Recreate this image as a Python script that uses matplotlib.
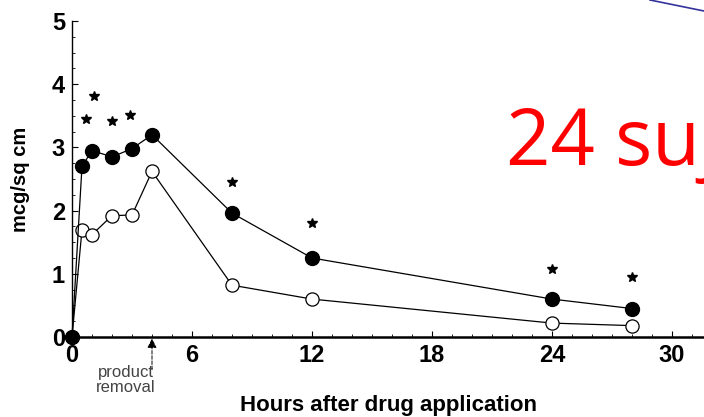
import matplotlib.pyplot as plt
from matplotlib.lines import Line2D
from matplotlib.ticker import MultipleLocator

hours = [0, 0.5, 1, 2, 3, 4, 8, 12, 24, 28]
treated = [0, 2.7, 2.95, 2.85, 2.98, 3.2, 1.96, 1.25, 0.6, 0.45]
control = [0, 1.7, 1.62, 1.92, 1.93, 2.62, 0.82, 0.6, 0.22, 0.18]

star_hours = [0.7, 1.1, 2.0, 2.9, 8.0, 12.0, 24.0, 28.0]
star_vals = [3.45, 3.82, 3.42, 3.52, 2.45, 1.8, 1.08, 0.95]

fig = plt.figure(figsize=(7.04, 4.17), dpi=100)
ax = fig.add_axes([72 / 704, 80 / 417, 632 / 704, 316 / 417])

ax.plot(hours, control, color='black', lw=0.9, marker='o', ms=9.5,
        mfc='white', mec='black', mew=0.9, clip_on=False, zorder=3)
ax.plot(hours, treated, color='black', lw=0.9, marker='o', ms=10,
        mfc='black', mec='black', clip_on=False, zorder=4)
ax.plot(star_hours, star_vals, ls='none', marker='*', ms=7,
        color='black', clip_on=False)

ax.set_xlim(0, 31.6)
ax.set_ylim(0, 5)
ax.spines['top'].set_visible(False)
ax.spines['right'].set_visible(False)
ax.spines['left'].set_linewidth(1.0)
ax.spines['bottom'].set_linewidth(1.8)

ax.set_xticks([0, 6, 12, 18, 24, 30])
ax.xaxis.set_minor_locator(MultipleLocator(1))
ax.yaxis.set_major_locator(MultipleLocator(1))
ax.yaxis.set_minor_locator(MultipleLocator(0.25))
ax.tick_params(axis='both', which='major', labelsize=17, length=4,
               direction='in', pad=5)
ax.tick_params(axis='both', which='minor', length=2, direction='in')
for lab in ax.get_xticklabels() + ax.get_yticklabels():
    lab.set_fontweight('bold')
    lab.set_family('Liberation Sans')

ax.set_xlabel('Hours after drug application', fontsize=16, fontweight='bold',
              family='Liberation Sans', labelpad=20)
ax.set_ylabel('mcg/sq cm', fontsize=14.5, fontweight='bold',
              family='Liberation Sans', labelpad=16)

ax.annotate('', xy=(4, 0.02), xytext=(4, -0.56),
            arrowprops=dict(arrowstyle='-|>', color='black', lw=0.7,
                            ls='--', mutation_scale=14),
            annotation_clip=False)
ax.text(2.7, -0.44, 'product\nremoval', fontsize=12, color='#444444',
        ha='center', va='top', family='Liberation Sans', linespacing=1.0)

fig.text(506 / 704, 1 - 165 / 417, '24 sujets', color='red', fontsize=56,
         family='Open Sans', ha='left', va='baseline')
fig.add_artist(Line2D([650 / 704, 1.0], [1.0, 1 - 11 / 417],
                      color='#33339a', lw=1.2))

fig.savefig('out.png', dpi=100)
